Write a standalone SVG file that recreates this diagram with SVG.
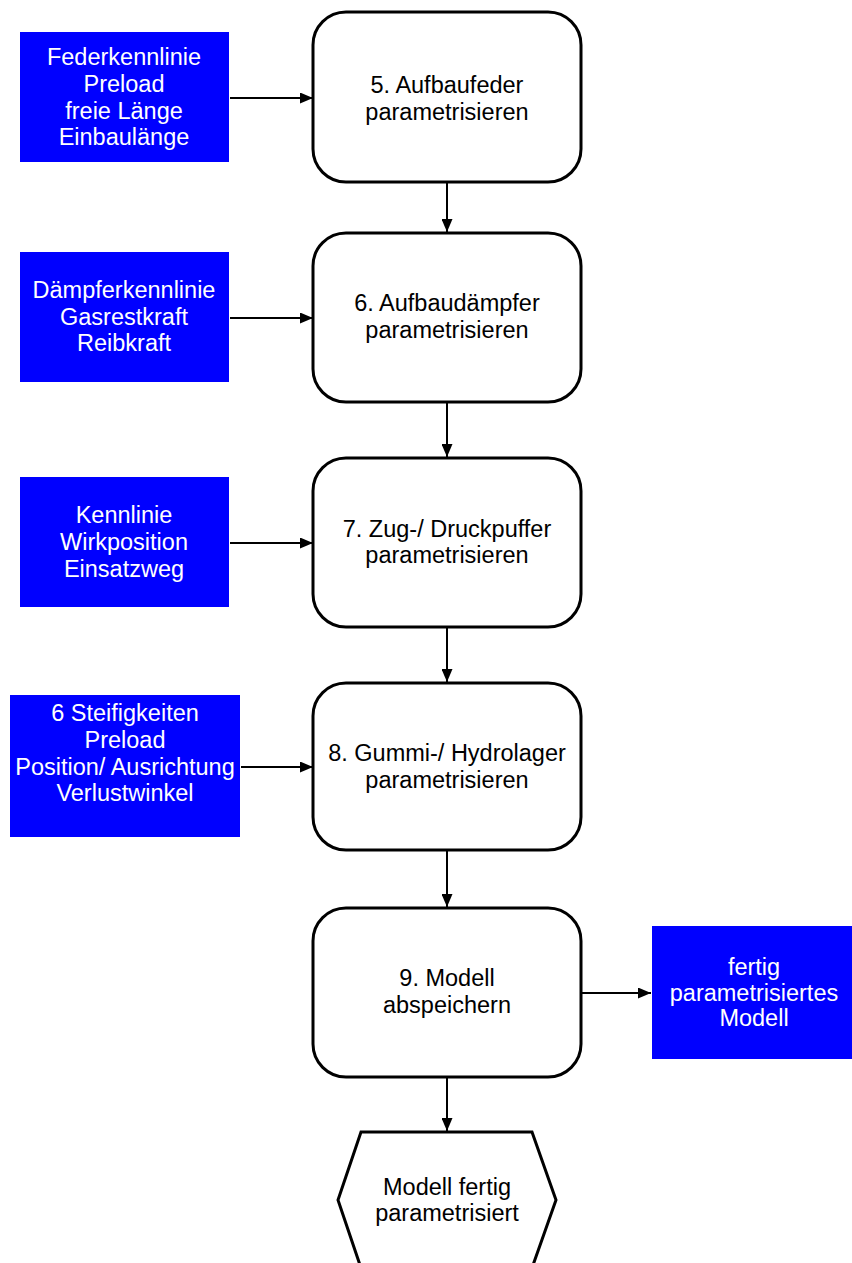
<svg xmlns="http://www.w3.org/2000/svg" width="852" height="1263" viewBox="0 0 852 1263">
  <style>
    .step { fill: #ffffff; stroke: #000000; stroke-width: 3; }
    .input { fill: #0000ff; stroke: none; }
    .term { fill: #ffffff; stroke: #000000; stroke-width: 3; stroke-linejoin: miter; }
    text { font-family: "Liberation Sans", Arial, sans-serif; font-size: 23.5px; text-anchor: middle; }
    .dark { fill: #000000; }
    .light { fill: #ffffff; }
    .link { stroke: #000000; stroke-width: 2; fill: none; marker-end: url(#arrow); }
  </style>
  <defs>
    <marker id="arrow" viewBox="0 0 13 11" refX="13" refY="5.5" markerWidth="13" markerHeight="11" markerUnits="userSpaceOnUse" orient="auto">
      <path d="M0,0 L13,5.5 L0,11 Z" fill="#000000"/>
    </marker>
  </defs>
  <rect x="0" y="0" width="852" height="1263" fill="#ffffff"/>

  <!-- process steps -->
  <g id="step5">
    <rect class="step" x="313" y="12" width="268" height="170" rx="33" ry="33"/>
    <text class="dark" x="447" y="93">5. Aufbaufeder</text>
    <text class="dark" x="447" y="120">parametrisieren</text>
  </g>
  <g id="step6">
    <rect class="step" x="313" y="233" width="268" height="169" rx="33" ry="33"/>
    <text class="dark" x="447" y="311">6. Aufbaudämpfer</text>
    <text class="dark" x="447" y="338">parametrisieren</text>
  </g>
  <g id="step7">
    <rect class="step" x="313" y="458" width="268" height="169" rx="33" ry="33"/>
    <text class="dark" x="447" y="537">7. Zug-/ Druckpuffer</text>
    <text class="dark" x="447" y="563">parametrisieren</text>
  </g>
  <g id="step8">
    <rect class="step" x="313" y="683" width="268" height="167" rx="33" ry="33"/>
    <text class="dark" x="447" y="761">8. Gummi-/ Hydrolager</text>
    <text class="dark" x="447" y="788">parametrisieren</text>
  </g>
  <g id="step9">
    <rect class="step" x="313" y="908" width="268" height="169" rx="33" ry="33"/>
    <text class="dark" x="447" y="986">9. Modell</text>
    <text class="dark" x="447" y="1013">abspeichern</text>
  </g>

  <!-- input data -->
  <g id="in5">
    <rect class="input" x="20" y="32" width="209" height="130"/>
    <text class="light" x="124" y="65">Federkennlinie</text>
    <text class="light" x="124" y="92">Preload</text>
    <text class="light" x="124" y="119">freie Länge</text>
    <text class="light" x="124" y="145">Einbaulänge</text>
  </g>
  <g id="in6">
    <rect class="input" x="20" y="252" width="209" height="130"/>
    <text class="light" x="124" y="298">Dämpferkennlinie</text>
    <text class="light" x="124" y="325">Gasrestkraft</text>
    <text class="light" x="124" y="351">Reibkraft</text>
  </g>
  <g id="in7">
    <rect class="input" x="20" y="477" width="209" height="130"/>
    <text class="light" x="124" y="523">Kennlinie</text>
    <text class="light" x="124" y="550">Wirkposition</text>
    <text class="light" x="124" y="577">Einsatzweg</text>
  </g>
  <g id="in8">
    <rect class="input" x="10" y="695" width="230" height="142"/>
    <text class="light" x="125" y="721">6 Steifigkeiten</text>
    <text class="light" x="125" y="748">Preload</text>
    <text class="light" x="125" y="775">Position/ Ausrichtung</text>
    <text class="light" x="125" y="801">Verlustwinkel</text>
  </g>

  <!-- output -->
  <g id="out9">
    <rect class="input" x="652" y="926" width="200" height="133"/>
    <text class="light" x="754" y="975">fertig</text>
    <text class="light" x="754" y="1001">parametrisiertes</text>
    <text class="light" x="754" y="1026">Modell</text>
  </g>

  <!-- terminator -->
  <g id="end">
    <polygon class="term" points="361,1132 532,1132 556,1200 532,1268 361,1268 338,1200"/>
    <text class="dark" x="447" y="1195">Modell fertig</text>
    <text class="dark" x="447" y="1221">parametrisiert</text>
  </g>

  <!-- connectors -->
  <g id="connectors">
    <line class="link" x1="230" y1="98" x2="313" y2="98"/>
    <line class="link" x1="230" y1="318" x2="313" y2="318"/>
    <line class="link" x1="230" y1="543" x2="313" y2="543"/>
    <line class="link" x1="241" y1="767" x2="313" y2="767"/>
    <line class="link" x1="581" y1="993" x2="651" y2="993"/>
    <line class="link" x1="447" y1="183" x2="447" y2="232"/>
    <line class="link" x1="447" y1="403" x2="447" y2="457"/>
    <line class="link" x1="447" y1="628" x2="447" y2="682"/>
    <line class="link" x1="447" y1="851" x2="447" y2="907"/>
    <line class="link" x1="447" y1="1078" x2="447" y2="1131"/>
  </g>
</svg>
